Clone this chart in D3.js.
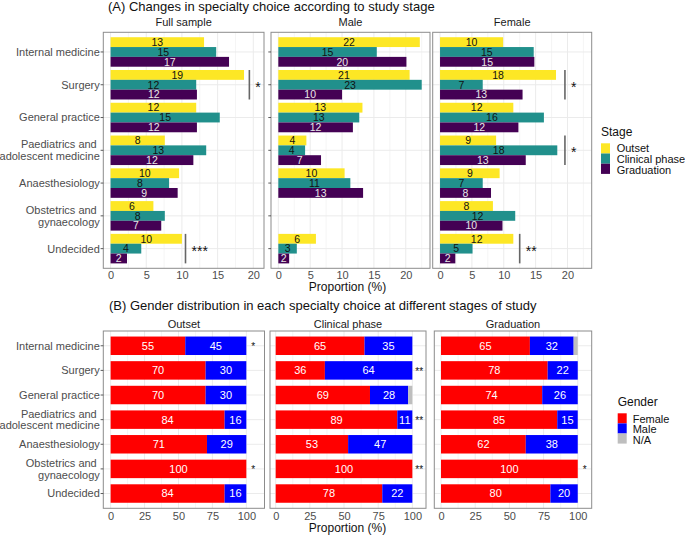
<!DOCTYPE html>
<html><head><meta charset="utf-8">
<script src="https://cdn.jsdelivr.net/npm/d3@7"></script>
<style>
body{margin:0;background:#fff}
text{font-family:"Liberation Sans",Arial,Helvetica,sans-serif}
</style>
</head><body><svg id="c" width="685" height="535"></svg>
<script>
// ---------------- DATA ----------------
const categories = ["Internal medicine","Surgery","General practice","Paediatrics and \nadolescent medicine","Anaesthesiology","Obstetrics and \ngynaecology","Undecided"];
const stages = ["Outset","Clinical phase","Graduation"];
const topPanelNames = ["Full sample","Male","Female"];
const topTicks = [0,5,10,15,20];
const topMinorTicks = [2.5,7.5,12.5,17.5,22.5];

const fullOutset      = [13.1, 18.7, 12.0, 7.6, 9.6, 6.0, 10.0];
const fullClinical    = [14.8, 12.0, 15.3, 13.4, 8.2, 7.6, 4.3];
const fullGraduation  = [16.6, 12.1, 12.1, 11.6, 9.4, 7.1, 2.3];
const maleOutset      = [22.2, 20.6, 13.2, 4.4, 10.4, 0, 5.9];
const maleClinical    = [15.45, 22.5, 12.7, 4.2, 11.3, 0, 2.9];
const maleGraduation  = [20.1, 10.0, 11.7, 6.7, 13.3, 0, 1.7];
const femaleOutset    = [9.9, 18.2, 11.5, 8.8, 9.35, 8.3, 11.5];
const femaleClinical  = [14.7, 6.7, 16.3, 18.4, 6.7, 11.8, 5.1];
const femaleGraduation= [14.8, 12.95, 12.3, 13.45, 8.0, 9.8, 2.4];

// significance brackets (panel A): category index, x of line (%), label
const sigFullCat = [1, 6];      const sigFullX = [19.45, 10.5];  const sigFullLab = ["*","***"];
const sigMaleCat = [];          const sigMaleX = [];             const sigMaleLab = [];
const sigFemaleCat = [1, 3, 6]; const sigFemaleX = [19.6, 19.6, 12.5]; const sigFemaleLab = ["*","*","**"];

const genders = ["Female","Male","N/A"];
const bottomPanelNames = ["Outset","Clinical phase","Graduation"];
const bottomTicks = [0,25,50,75,100];
const bottomMinorTicks = [12.5,37.5,62.5,87.5];
const outsetFemale     = [55, 70, 70, 84, 71, 100, 84];
const outsetMale       = [45, 30, 30, 16, 29, 0, 16];
const outsetNA         = [0, 0, 0, 0, 0, 0, 0];
const clinicalFemale   = [65, 36, 69, 89, 53, 100, 78];
const clinicalMale     = [35, 64, 28, 11, 47, 0, 22];
const clinicalNA       = [0, 0, 3, 0, 0, 0, 0];
const graduationFemale = [65, 78, 74, 85, 62, 100, 80];
const graduationMale   = [32, 22, 26, 15, 38, 0, 20];
const graduationNA     = [3, 0, 0, 0, 0, 0, 0];
const bottomSigOutset     = ["*","","","","","*",""];
const bottomSigClinical   = ["","**","","**","","**",""];
const bottomSigGraduation = ["","","","","","*",""];

// ---------------- STYLE ----------------
const stageColors = ["#FDE725","#21908C","#440154"];
const stageTextColors = ["#111111","#111111","#e8e8e8"];
const genderColors = ["#FF0000","#0000FF","#BEBEBE"];
const gridCol = "#ebebeb", borderCol = "#8c8c8c", axisTextCol = "#4d4d4d";

const svg = d3.select("#c");

function drawYLabels(yScale, left, fontSize, lineH){
  const g = svg.append("g");
  categories.forEach(c=>{
    const lines = c.split("\n");
    const cy = yScale(c) + yScale.bandwidth()/2;
    const t = g.append("text").attr("text-anchor","end").attr("fill",axisTextCol)
      .attr("font-size",fontSize).style("white-space","pre");
    lines.forEach((ln,i)=>{
      t.append("tspan").attr("x",left-3.5)
       .attr("y", cy + (i-(lines.length-1)/2)*lineH).attr("dy","0.36em").text(ln);
    });
    g.append("line").attr("x1",left-2.7).attr("x2",left).attr("y1",cy).attr("y2",cy)
      .attr("stroke","#333").attr("stroke-width",0.8);
  });
}

function panelBase(x, y, ticks, minor, strip, yTop, yBot, stripY){
  const g = svg.append("g");
  const [x0,x1] = x.range();
  minor.forEach(v=>{ if(v>=x.domain()[0] && v<=x.domain()[1])
    g.append("line").attr("x1",x(v)).attr("x2",x(v)).attr("y1",yTop).attr("y2",yBot)
     .attr("stroke",gridCol).attr("stroke-width",0.5);});
  ticks.forEach(v=>g.append("line").attr("x1",x(v)).attr("x2",x(v)).attr("y1",yTop).attr("y2",yBot)
     .attr("stroke",gridCol).attr("stroke-width",1));
  categories.forEach(c=>{const cy=y(c)+y.bandwidth()/2;
    g.append("line").attr("x1",x0).attr("x2",x1).attr("y1",cy).attr("y2",cy)
     .attr("stroke",gridCol).attr("stroke-width",1);});
  svg.append("text").attr("x",(x0+x1)/2).attr("y",stripY).attr("text-anchor","middle")
    .attr("font-size",11).attr("fill","#1a1a1a").text(strip);
  return g;
}
function panelBorder(x, yTop, yBot, tickPad){
  const [x0,x1] = x.range();
  svg.append("rect").attr("x",x0).attr("y",yTop).attr("width",x1-x0).attr("height",yBot-yTop)
    .attr("fill","none").attr("stroke",borderCol).attr("stroke-width",1);
}
function xAxis(x, ticks, yBot, pad){
  const ax = svg.append("g").attr("transform",`translate(0,${yBot})`)
    .call(d3.axisBottom(x).tickValues(ticks).tickSize(0).tickPadding(pad).tickFormat(d3.format("d")));
  ax.select(".domain").remove();
  ax.selectAll("text").attr("fill",axisTextCol).attr("font-size",11)
    .attr("font-family",'"Liberation Sans",Arial,sans-serif');
}

// ---------------- PANEL A ----------------
svg.append("text").attr("x",108).attr("y",11).attr("font-size",13).attr("fill","#111")
  .text("(A) Changes in specialty choice according to study stage");

const topTop = 32.3, topBot = 268.3;
const yTop = d3.scaleBand().domain(categories).range([topTop, topBot]).paddingInner(0).paddingOuter(0.1);
const sub = d3.scaleBand().domain(stages).range([yTop.bandwidth()*0.05, yTop.bandwidth()*0.95]);

const topData = [
  [fullOutset, fullClinical, fullGraduation],
  [maleOutset, maleClinical, maleGraduation],
  [femaleOutset, femaleClinical, femaleGraduation]];
const topSig = [[sigFullCat,sigFullX,sigFullLab],[sigMaleCat,sigMaleX,sigMaleLab],[sigFemaleCat,sigFemaleX,sigFemaleLab]];
const topX = [
  d3.scaleLinear().domain([-1.02, 21.5]).range([103.3, 264]),
  d3.scaleLinear().domain([-1.15, 23.8]).range([271, 430]),
  d3.scaleLinear().domain([-1.15, 23.8]).range([432.7, 591.7])];

topX.forEach((x,p)=>{
  const g = panelBase(x, yTop, topTicks, topMinorTicks, topPanelNames[p], topTop, topBot, 26);
  stages.forEach((s,si)=>{
    const vals = topData[p][si];
    categories.forEach((c,ci)=>{
      const v = vals[ci]; if(!v) return;
      const yy = yTop(c)+sub(s);
      g.append("rect").attr("x",x(0)).attr("y",yy).attr("width",x(v)-x(0)).attr("height",sub.bandwidth())
        .attr("fill",stageColors[si]);
      g.append("text").attr("x",x(v/2)).attr("y",yy+sub.bandwidth()/2).attr("dy","0.36em")
        .attr("text-anchor","middle").attr("font-size",10.5).attr("fill",stageTextColors[si])
        .text(Math.round(v));
    });
  });
  const [sc,sx,sl] = topSig[p];
  sc.forEach((ci,k)=>{
    const c = categories[ci];
    g.append("line").attr("x1",x(sx[k])).attr("x2",x(sx[k]))
      .attr("y1",yTop(c)+yTop.bandwidth()*0.05).attr("y2",yTop(c)+yTop.bandwidth()*0.95)
      .attr("stroke","#666").attr("stroke-width",1.6);
    g.append("text").attr("x",x(sx[k])+6).attr("y",yTop(c)+yTop.bandwidth()/2).attr("dy","0.5em")
      .attr("font-size",14).attr("fill","#111").text(sl[k]);
  });
  panelBorder(x, topTop, topBot);
  xAxis(x, topTicks, topBot, 2.5);
});
drawYLabels(yTop, 103.3, 11, 12);
// Male panel has empty y ticks
categories.forEach(c=>{const cy=yTop(c)+yTop.bandwidth()/2;
  svg.append("line").attr("x1",268.3).attr("x2",271).attr("y1",cy).attr("y2",cy).attr("stroke","#333").attr("stroke-width",0.8);});
svg.append("text").attr("x",347.5).attr("y",290.5).attr("text-anchor","middle").attr("font-size",12)
  .attr("fill","#111").text("Proportion (%)");

// Legend A
svg.append("text").attr("x",601).attr("y",136).attr("font-size",12).attr("fill","#111").text("Stage");
stages.forEach((s,i)=>{
  svg.append("rect").attr("x",601).attr("y",143.3+i*10.2).attr("width",9).attr("height",10.2).attr("fill",stageColors[i]);
  svg.append("text").attr("x",616.7).attr("y",148.4+i*10.7).attr("dy","0.36em").attr("font-size",11)
    .attr("fill","#111").text(s);
});

// ---------------- PANEL B ----------------
svg.append("text").attr("x",109).attr("y",310).attr("font-size",13).attr("fill","#111")
  .text("(B) Gender distribution in each specialty choice at different stages of study");
const botTop = 331, botBot = 508.3;
const yBot = d3.scaleBand().domain(categories).range([botTop, botBot]).paddingInner(0).paddingOuter(0.1);
const botData = [
  [outsetFemale, outsetMale, outsetNA],
  [clinicalFemale, clinicalMale, clinicalNA],
  [graduationFemale, graduationMale, graduationNA]];
const botSig = [bottomSigOutset, bottomSigClinical, bottomSigGraduation];
const botX = [
  d3.scaleLinear().domain([-5.4, 113.4]).range([103.3, 264.5]),
  d3.scaleLinear().domain([-4.17, 110]).range([270, 426]),
  d3.scaleLinear().domain([-4.9, 110.2]).range([434.3, 591.7])];

botX.forEach((x,p)=>{
  const g = panelBase(x, yBot, bottomTicks, bottomMinorTicks, bottomPanelNames[p], botTop, botBot, 327.5);
  const bh = yBot.bandwidth()*0.75;
  categories.forEach((c,ci)=>{
    let acc = 0;
    const yy = yBot(c) + (yBot.bandwidth()-bh)/2;
    genders.forEach((gd,gi)=>{
      const v = botData[p][gi][ci];
      if(v>0){
        g.append("rect").attr("x",x(acc)).attr("y",yy).attr("width",x(acc+v)-x(acc)).attr("height",bh)
          .attr("fill",genderColors[gi]);
        if(gi<2) g.append("text").attr("x",x(acc+v/2)).attr("y",yy+bh/2).attr("dy","0.36em")
          .attr("text-anchor","middle").attr("font-size",11).attr("fill","#fff").text(v);
      }
      acc += v;
    });
    const s = botSig[p][ci];
    if(s) g.append("text").attr("x",x(105)).attr("y",yy+bh/2).attr("dy","0.45em")
      .attr("text-anchor","middle").attr("font-size",10).attr("fill","#111").text(s);
  });
  panelBorder(x, botTop, botBot);
  xAxis(x, bottomTicks, botBot, 3.5);
});
drawYLabels(yBot, 103.3, 11, 11.7);
svg.append("text").attr("x",347.5).attr("y",531.5).attr("text-anchor","middle").attr("font-size",12)
  .attr("fill","#111").text("Proportion (%)");

// Legend B
svg.append("text").attr("x",617.7).attr("y",406).attr("font-size",12).attr("fill","#111").text("Gender");
genders.forEach((s,i)=>{
  svg.append("rect").attr("x",617.7).attr("y",413.3+i*10.1).attr("width",9).attr("height",10.1).attr("fill",genderColors[i]);
  svg.append("text").attr("x",632.7).attr("y",418.6+i*10.5).attr("dy","0.36em").attr("font-size",11)
    .attr("fill","#111").text(s);
});
</script></body></html>
